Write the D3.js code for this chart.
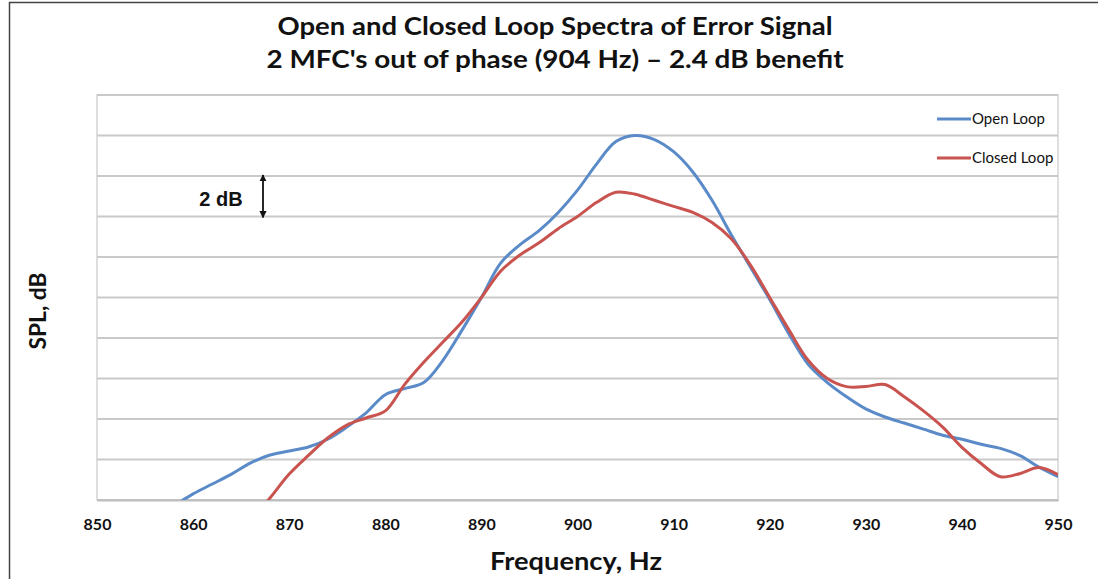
<!DOCTYPE html>
<html>
<head>
<meta charset="utf-8">
<script src="https://cdn.jsdelivr.net/npm/d3@7"></script>
<style>
  body { margin: 0; background: #fff; }
  svg { display: block; font-family: Lato, "Open Sans", sans-serif; }
</style>
</head>
<body>
<svg id="chart" width="1098" height="579"></svg>
<script>
// chart text
var TITLE_LINES = ["Open and Closed Loop Spectra of Error Signal", "2 MFC's out of phase (904 Hz) \u2013 2.4 dB benefit"];
var X_TITLE = "Frequency, Hz";
var Y_TITLE = "SPL, dB";
var X_TICKS = [850, 860, 870, 880, 890, 900, 910, 920, 930, 940, 950];
var Y_GRID = [0, 2, 4, 6, 8, 10, 12, 14, 16, 18, 20];
var SERIES_NAMES = ["Open Loop", "Closed Loop"];

// values (relative dB, 2 dB per gridline)
var openFreq = [858, 860, 862, 864, 866, 868, 870, 872, 874, 876, 878, 880, 882, 884, 886, 888, 890,
  892, 894, 896, 898, 900, 902, 904, 906, 908, 910, 912, 914, 916, 918, 920, 922, 924, 926, 928,
  930, 932, 934, 936, 938, 940, 942, 944, 946, 948, 950];
var openLevel = [-0.3, 0.3, 0.79, 1.28, 1.83, 2.22, 2.42, 2.62, 3.0, 3.6, 4.3, 5.2, 5.5, 5.8, 6.9, 8.4, 10.0,
  11.7, 12.6, 13.3, 14.2, 15.3, 16.6, 17.7, 18.0, 17.8, 17.2, 16.2, 14.8, 13.1, 11.5, 9.9, 8.2, 6.7, 5.8, 5.1,
  4.5, 4.1, 3.8, 3.5, 3.2, 3.0, 2.75, 2.55, 2.2, 1.63, 1.15];

var closedFreq = [866, 868, 870, 872, 874, 876, 878, 880, 882, 884, 886, 888, 890,
  892, 894, 896, 898, 900, 902, 904, 906, 908, 910, 912, 914, 916, 918, 920, 922, 924, 926, 928,
  930, 932, 934, 936, 938, 940, 942, 944, 946, 948, 950];
var closedLevel = [-1.0, 0.1, 1.28, 2.2, 3.06, 3.7, 4.05, 4.4, 5.7, 6.8, 7.8, 8.8, 10.0,
  11.3, 12.1, 12.7, 13.4, 14.0, 14.7, 15.2, 15.1, 14.8, 14.5, 14.2, 13.7, 12.9, 11.6, 10.0, 8.4, 6.9, 6.0, 5.6,
  5.6, 5.7, 5.1, 4.4, 3.6, 2.6, 1.8, 1.15, 1.3, 1.6, 1.25];

var BLUE = "#5a8bc8";
var RED = "#c9534f";
var GRID = "#c9c9c9";

var svg = d3.select("#chart");
var plot = { left: 97, right: 1058, top: 95, bottom: 500 };

var x = d3.scaleLinear().domain([850, 950]).range([plot.left, plot.right]);
var y = d3.scaleLinear().domain([0, 20]).range([plot.bottom, plot.top]);

// outer chart frame
svg.append("rect")
  .attr("x", 9.5).attr("y", 2.5).attr("width", 1200).attr("height", 700)
  .attr("fill", "none").attr("stroke", "#444").attr("stroke-width", 1.5);

// titles, stretched to the width of the original narrow face
var TITLE_WIDTHS = [555, 577];
svg.selectAll(".title").data(TITLE_LINES).enter().append("text")
  .attr("class", "title")
  .attr("x", 555).attr("y", function(d, i) { return 35 + i * 33; })
  .attr("text-anchor", "middle")
  .attr("font-size", 25).attr("font-weight", "bold").attr("fill", "#111")
  .attr("textLength", function(d, i) { return TITLE_WIDTHS[i]; })
  .attr("lengthAdjust", "spacingAndGlyphs")
  .text(function(d) { return d; });

// plot border
svg.append("rect")
  .attr("x", plot.left).attr("y", plot.top)
  .attr("width", plot.right - plot.left).attr("height", plot.bottom - plot.top)
  .attr("fill", "none").attr("stroke", "#d4d4d4").attr("stroke-width", 1.5);

// gridlines
svg.append("g").selectAll("line").data(Y_GRID).enter().append("line")
  .attr("x1", plot.left).attr("x2", plot.right)
  .attr("y1", function(d) { return y(d); }).attr("y2", function(d) { return y(d); })
  .attr("stroke", GRID).attr("stroke-width", 2);

// x axis
var xAxis = svg.append("g")
  .attr("transform", "translate(0," + plot.bottom + ")")
  .call(d3.axisBottom(x).tickValues(X_TICKS).tickSize(0).tickPadding(19).tickFormat(d3.format("d")));
xAxis.select(".domain").attr("stroke", "#bdbdbd").attr("stroke-width", 2);
xAxis.selectAll("text")
  .attr("font-size", 16).attr("font-weight", "bold").attr("fill", "#111")
  .attr("font-family", "Lato, sans-serif");

svg.append("text")
  .attr("x", 576).attr("y", 570)
  .attr("text-anchor", "middle")
  .attr("font-size", 24).attr("font-weight", "bold").attr("fill", "#111")
  .attr("textLength", 172).attr("lengthAdjust", "spacingAndGlyphs")
  .text(X_TITLE);

svg.append("text")
  .attr("transform", "translate(46,311) rotate(-90)")
  .attr("text-anchor", "middle")
  .attr("font-size", 22).attr("font-weight", "bold").attr("fill", "#111")
  .attr("textLength", 77).attr("lengthAdjust", "spacingAndGlyphs")
  .text(Y_TITLE);

// clip
svg.append("clipPath").attr("id", "plotClip").append("rect")
  .attr("x", plot.left).attr("y", plot.top)
  .attr("width", plot.right - plot.left).attr("height", plot.bottom - plot.top);

var line = d3.line()
  .x(function(d) { return x(d[0]); })
  .y(function(d) { return y(d[1]); })
  .curve(d3.curveCatmullRom.alpha(0.5));

var openData = d3.zip(openFreq, openLevel);
var closedData = d3.zip(closedFreq, closedLevel);

var lines = svg.append("g").attr("clip-path", "url(#plotClip)");
lines.append("path").datum(openData)
  .attr("d", line).attr("fill", "none").attr("stroke", BLUE)
  .attr("stroke-width", 3).attr("stroke-linejoin", "round");
lines.append("path").datum(closedData)
  .attr("d", line).attr("fill", "none").attr("stroke", RED)
  .attr("stroke-width", 3).attr("stroke-linejoin", "round");

// legend
var legend = svg.append("g").selectAll("g").data(SERIES_NAMES).enter().append("g")
  .attr("transform", function(d, i) { return "translate(937," + (119 + i * 39) + ")"; });
legend.append("line")
  .attr("x1", 0).attr("x2", 34).attr("y1", 0).attr("y2", 0)
  .attr("stroke", function(d, i) { return i === 0 ? BLUE : RED; })
  .attr("stroke-width", 3);
legend.append("text")
  .attr("x", 35).attr("y", 5)
  .attr("font-size", 15).attr("fill", "#111")
  .text(function(d) { return d; });

// 2 dB annotation
svg.append("text")
  .attr("x", 221).attr("y", 206)
  .attr("text-anchor", "middle")
  .attr("font-size", 20).attr("font-weight", "bold").attr("fill", "#111")
  .attr("font-family", "'Liberation Sans', Arial, sans-serif")
  .text("2 dB");

var defs = svg.append("defs");
defs.append("marker").attr("id", "arrowHead")
  .attr("viewBox", "0 0 10 10").attr("refX", 9).attr("refY", 5)
  .attr("markerWidth", 4).attr("markerHeight", 4).attr("orient", "auto-start-reverse")
  .append("path").attr("d", "M0,0 L10,5 L0,10 z").attr("fill", "#111");

svg.append("line")
  .attr("x1", 263).attr("x2", 263)
  .attr("y1", y(16) - 1).attr("y2", y(14) + 1)
  .attr("stroke", "#111").attr("stroke-width", 1.8)
  .attr("marker-start", "url(#arrowHead)").attr("marker-end", "url(#arrowHead)");
</script>
</body>
</html>
